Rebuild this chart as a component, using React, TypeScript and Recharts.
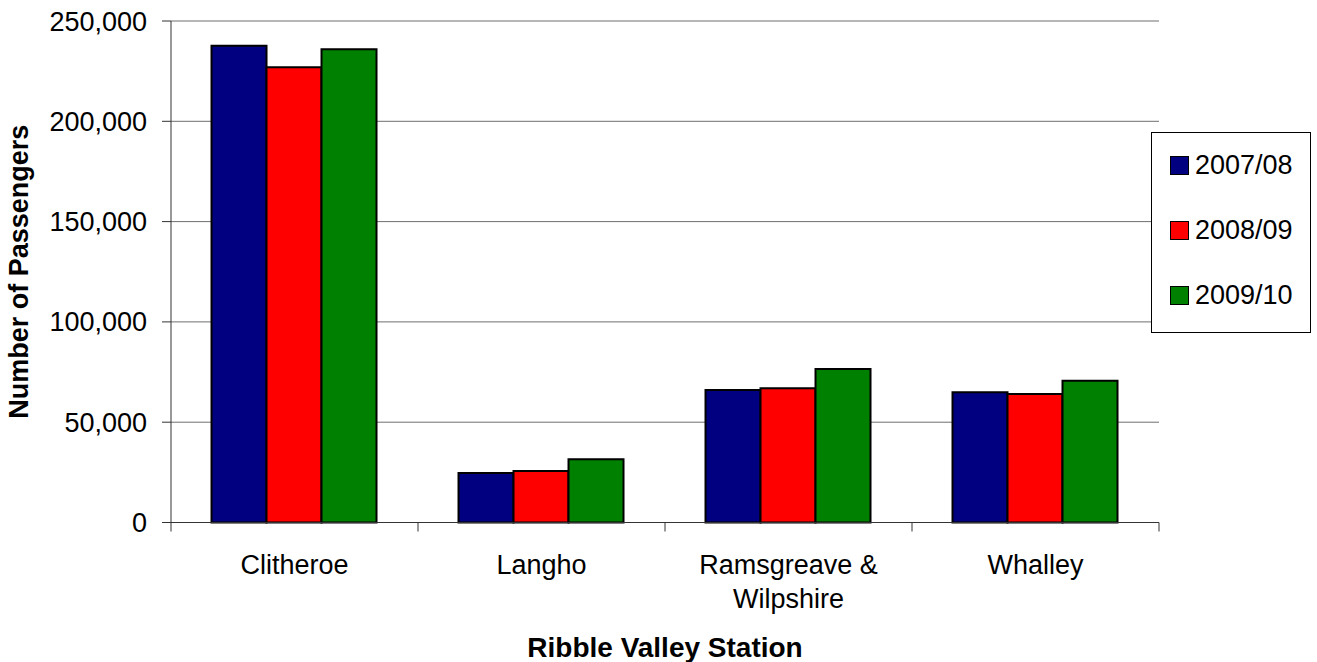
import { Bar, BarChart, CartesianGrid, Legend, XAxis, YAxis } from 'recharts'

const categories = ['Clitheroe', 'Langho', 'Ramsgreave & Wilpshire', 'Whalley']
const seriesNames = ['2007/08', '2008/09', '2009/10']
const values0708 = [237700, 24700, 66000, 64900]
const values0809 = [226900, 25700, 66900, 64100]
const values0910 = [235900, 31500, 76500, 70700]
const yTicks = [0, 50000, 100000, 150000, 200000, 250000]

const COLORS = ['#000080', '#ff0000', '#008000']
const FONT = '"Liberation Sans", Arial, sans-serif'
const AXIS = '#333'

const data = categories.map((name, i) => ({
  name,
  s0: values0708[i],
  s1: values0809[i],
  s2: values0910[i],
}))

// greedy word wrap by character count
function wrapWords(label: string, maxChars: number) {
  const lines: string[] = []
  let cur = ''
  for (const w of label.split(' ')) {
    const next = cur ? `${cur} ${w}` : w
    if (next.length > maxChars && cur) {
      lines.push(cur)
      cur = w
    } else {
      cur = next
    }
  }
  if (cur) lines.push(cur)
  return lines
}

// category labels sit in the middle of each band, the tick marks sit on the band edges
function CategoryTick({ x, y, payload, index }: any) {
  const half = payload?.offset ?? 0
  const lines = wrapWords(String(payload.value), 14)
  return (
    <g>
      <line x1={x - half} y1={y} x2={x - half} y2={y + 9} stroke={AXIS} />
      {index === categories.length - 1 && <line x1={x + half} y1={y} x2={x + half} y2={y + 9} stroke={AXIS} />}
      <text x={x} y={y + 51} textAnchor="middle" fill="#000" fontSize={27} fontFamily={FONT}>
        {lines.map((line, i) => (
          <tspan key={i} x={x} dy={i === 0 ? 0 : 34}>
            {line}
          </tspan>
        ))}
      </text>
    </g>
  )
}

function YTitle({ viewBox }: any) {
  const cx = viewBox.x + 28
  const cy = viewBox.y + viewBox.height / 2
  return (
    <text
      x={cx}
      y={cy}
      transform={`rotate(-90, ${cx}, ${cy})`}
      textAnchor="middle"
      fill="#000"
      fontSize={27}
      fontWeight="bold"
      fontFamily={FONT}
    >
      Number of Passengers
    </text>
  )
}

function LegendBox({ payload }: any) {
  return (
    <div
      style={{
        border: '1px solid #000',
        background: '#fff',
        width: 158,
        height: 199,
        fontFamily: FONT,
        fontSize: 27,
        color: '#000',
      }}
    >
      {(payload ?? []).map((p: any) => (
        <div key={p.value} style={{ height: 65, display: 'flex', alignItems: 'center', paddingLeft: 18 }}>
          <span
            style={{
              display: 'inline-block',
              width: 17,
              height: 17,
              border: '1px solid #000',
              background: p.color,
              marginRight: 6,
            }}
          />
          <span>{p.value}</span>
        </div>
      ))}
    </div>
  )
}

export default function App() {
  return (
    <div style={{ width: 1317, height: 662, background: '#fff' }}>
      <style>{'body{margin:0;}'}</style>
      <BarChart
        width={1317}
        height={662}
        data={data}
        margin={{ top: 21, right: 158, left: 0, bottom: 0 }}
        barCategoryGap="16.4%"
        barGap={0}
        style={{ fontFamily: FONT }}
      >
        <CartesianGrid vertical={false} stroke="#6f6f6f" strokeWidth={1} />
        <XAxis
          dataKey="name"
          height={139.5}
          axisLine={{ stroke: AXIS }}
          tickLine={false}
          tickSize={0}
          tickMargin={0}
          tick={<CategoryTick />}
          interval={0}
          label={{
            value: 'Ribble Valley Station',
            position: 'insideBottom',
            offset: 5,
            fill: '#000',
            fontSize: 28,
            fontWeight: 'bold',
            fontFamily: FONT,
          }}
        />
        <YAxis
          width={171}
          domain={[0, 250000]}
          ticks={yTicks}
          interval={0}
          axisLine={{ stroke: AXIS }}
          tickLine={{ stroke: AXIS }}
          tickSize={9}
          tickMargin={15}
          tick={{ fill: '#000', fontSize: 27, fontFamily: FONT }}
          tickFormatter={(v: number) => v.toLocaleString('en-US')}
          label={<YTitle />}
        />
        <Legend
          layout="vertical"
          align="center"
          verticalAlign="middle"
          wrapperStyle={{ left: 1151, top: 132, width: 160 }}
          content={<LegendBox />}
        />
        <Bar dataKey="s0" name={seriesNames[0]} fill={COLORS[0]} stroke="#000" strokeWidth={2} isAnimationActive={false} />
        <Bar dataKey="s1" name={seriesNames[1]} fill={COLORS[1]} stroke="#000" strokeWidth={2} isAnimationActive={false} />
        <Bar dataKey="s2" name={seriesNames[2]} fill={COLORS[2]} stroke="#000" strokeWidth={2} isAnimationActive={false} />
      </BarChart>
    </div>
  )
}
